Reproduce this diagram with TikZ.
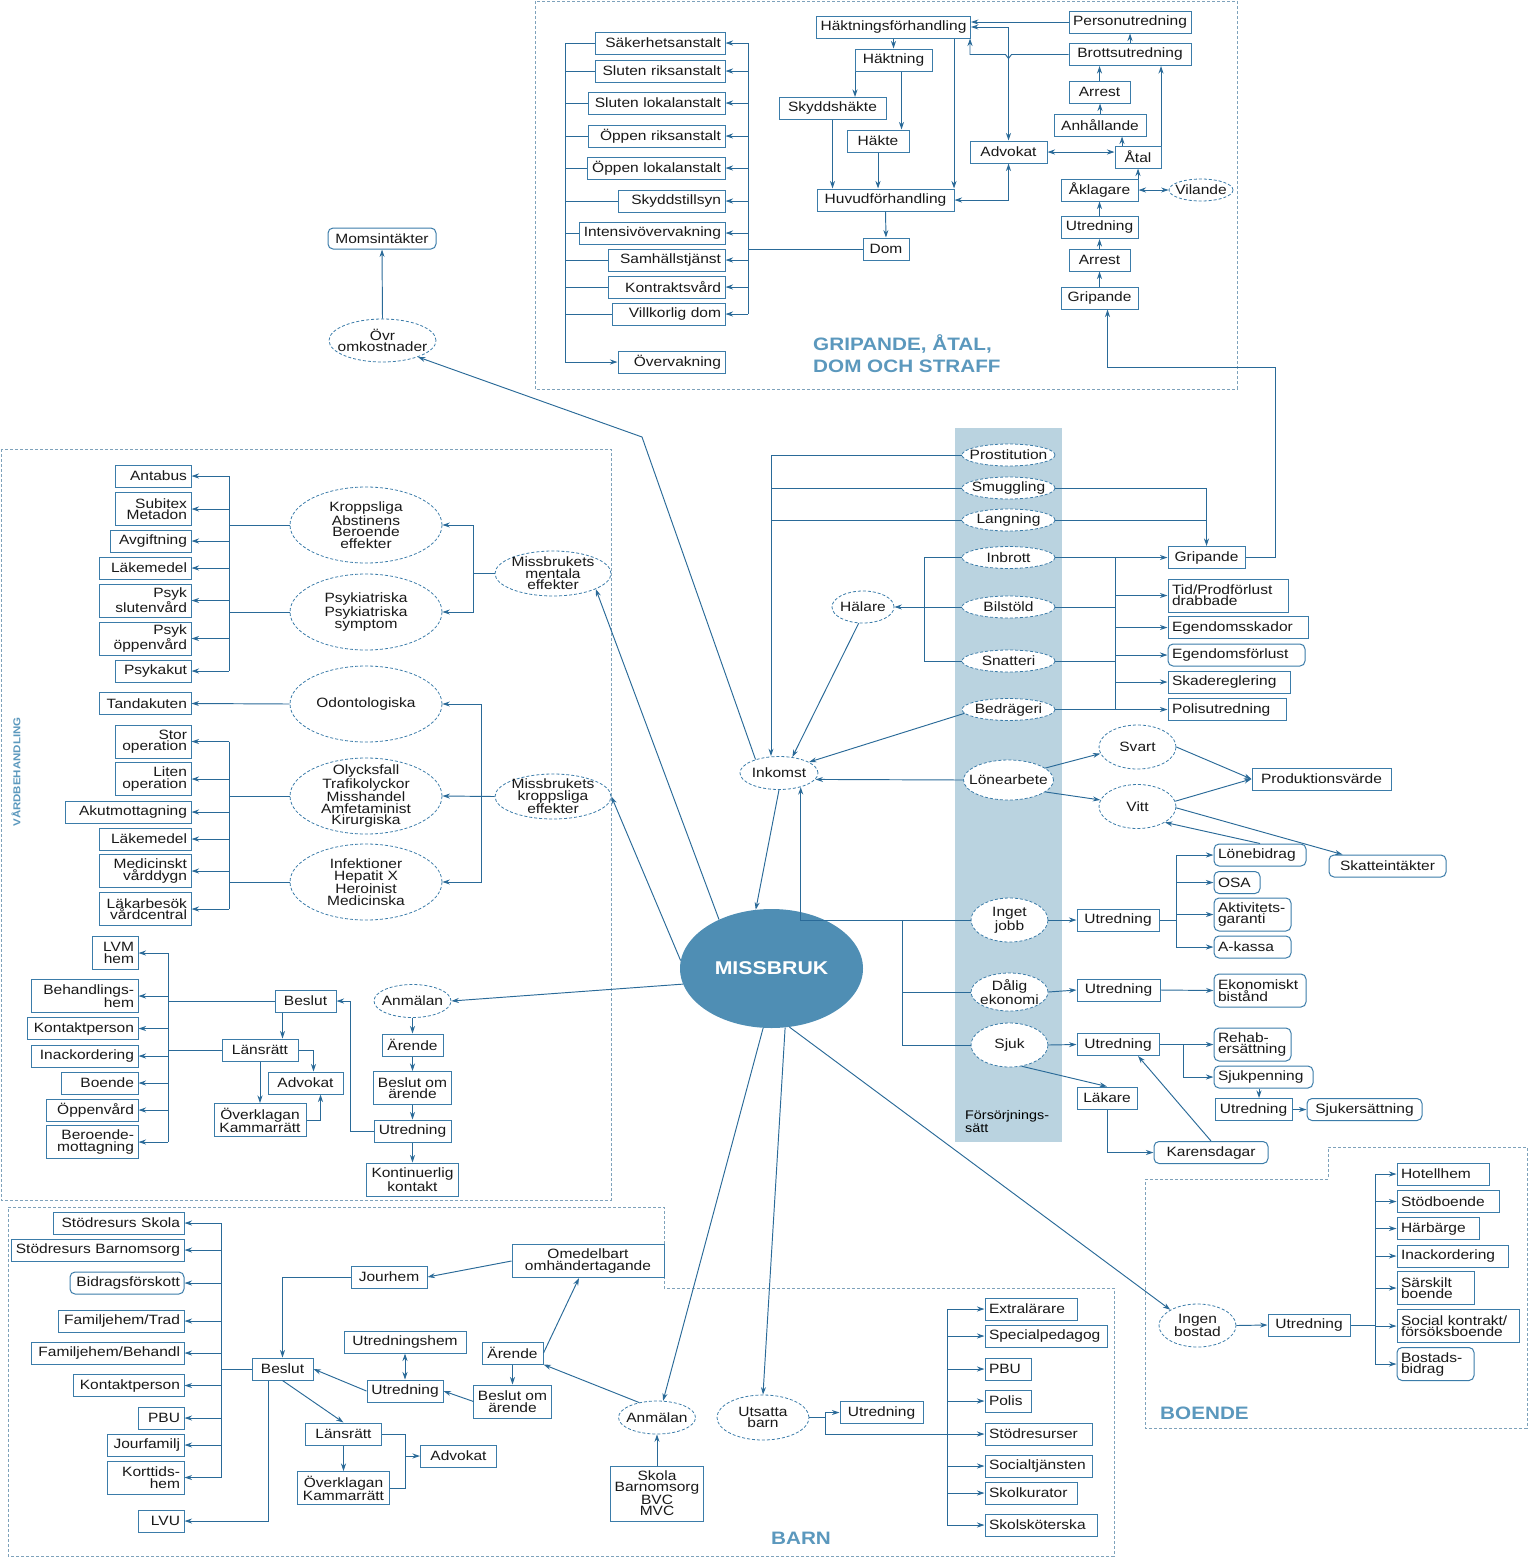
\documentclass[tikz,border=0pt]{standalone}
\usepackage{fontspec}
\setmainfont{Liberation Sans}[FakeStretch=1.15]
\usetikzlibrary{shapes.geometric, arrows.meta, positioning}

\definecolor{lineblue}{HTML}{2A6A98}
\definecolor{boxblue}{HTML}{3B7CA9}
\definecolor{headblue}{HTML}{5B98BD}
\definecolor{bandblue}{HTML}{BAD3E0}
\definecolor{coreblue}{HTML}{4F8EB4}
\definecolor{framegray}{HTML}{7EA2BB}

\begin{document}
\begin{tikzpicture}[
        x=1pt, y=-1pt,
        font=\fontsize{13.5}{11.5}\selectfont,
        % Styles
        box/.style={draw=boxblue, fill=white, line width=1pt, inner xsep=4pt, inner ysep=1pt, minimum height=22pt, text=black!90},
        rbox/.style={box, align=right, text width=#1},
        lbox/.style={box, align=left, text width=#1},
        rnd/.style={rounded corners=5pt},
        oval/.style n args={3}{ellipse, draw=boxblue, densely dashed, fill=white, line width=0.8pt, inner sep=0pt, minimum width=#1, minimum height=#2, label={[ovaltext]center:#3}},
        ovaltext/.style={align=center, inner sep=0pt, text=black!90},
        tight/.style={every label/.append style={font=\fontsize{13.5}{10.6}\selectfont}},
        link/.style={draw=lineblue, line width=0.95pt},
        arrow/.style={link, -{Stealth[length=7.5pt, width=5pt]}},
        twoway/.style={link, {Stealth[length=7.5pt, width=5pt]}-{Stealth[length=7.5pt, width=5pt]}},
        frame/.style={draw=framegray, densely dashed, line width=0.8pt},
        heading/.style={font=\fontsize{18}{22}\selectfont\bfseries, text=headblue, align=left, inner sep=0pt}
    ]
    \useasboundingbox (0,0) rectangle (1528,1559);

    % Frames and band
    \draw[frame] (535,1) rectangle (1237,389);
    \draw[frame] (1,449) rectangle (611,1200);
    \draw[frame] (8,1207) -- (664,1207) -- (664,1288) -- (1114,1288) -- (1114,1556) -- (8,1556) -- cycle;
    \draw[frame] (1145,1179) -- (1328,1179) -- (1328,1147) -- (1527,1147) -- (1527,1428) -- (1145,1428) -- cycle;
    \node[fill=bandblue, minimum width=107pt, minimum height=714pt, inner sep=0pt] (band) at (1008.5,785) {};
    \node[anchor=north west, align=left, inner sep=0pt, font=\fontsize{12.5}{13}\selectfont] (forsorj) at (965,1110) {Försörjnings-\\sätt};

    \node[heading, anchor=west] (straff) at (813,354) {GRIPANDE, ÅTAL,\\DOM OCH STRAFF};
    \node[heading, anchor=west] (boendetitle) at (1160,1413) {BOENDE};
    \node[heading] (barntitle) at (801,1538) {BARN};
    \node[heading, font=\fontsize{10}{11}\selectfont\bfseries, rotate=90] (vardtitle) at (16,772) {VÅRDBEHANDLING};

    % Core
    \node[ellipse, fill=coreblue, minimum width=183pt, minimum height=119pt, inner sep=0pt, text=white, font=\fontsize{18.5}{20}\selectfont\bfseries] (missbruk) at (771.5,968.5) {MISSBRUK};

    % Gripande, atal, dom och straff
    \node[rbox=122pt] (sakerhet) at (660,43) {Säkerhetsanstalt};
    \node[rbox=122pt] (slutriks) at (660,71) {Sluten riksanstalt};
    \node[rbox=129pt] (slutlokal) at (656.5,103) {Sluten lokalanstalt};
    \node[rbox=129pt] (oppriks) at (656.5,136) {Öppen riksanstalt};
    \node[rbox=130pt] (opplokal) at (656,168) {Öppen lokalanstalt};
    \node[rbox=99pt] (skyddstillsyn) at (671.5,201) {Skyddstillsyn};
    \node[rbox=138pt] (intensiv) at (652,233) {Intensivövervakning};
    \node[rbox=109pt] (samhall) at (666.5,260) {Samhällstjänst};
    \node[rbox=109pt] (kontraktsvard) at (666.5,287) {Kontraktsvård};
    \node[rbox=105pt] (villkorlig) at (668.5,314) {Villkorlig dom};
    \node[rbox=99pt] (overvakning) at (671.5,362) {Övervakning};

    \node[box, minimum width=153pt] (haktfh) at (893.5,27) {Häktningsförhandling};
    \node[box, minimum width=77pt] (haktning) at (893.5,60) {Häktning};
    \node[box, minimum width=107pt] (skyddshakte) at (832.5,108.5) {Skyddshäkte};
    \node[box, minimum width=62pt] (hakte) at (878,141) {Häkte};
    \node[box, minimum width=137pt] (huvudfh) at (885.5,200) {Huvudförhandling};
    \node[box, minimum width=46pt] (dom) at (886,249) {Dom};
    \node[box, minimum width=77pt] (advokat) at (1008.5,152) {Advokat};
    \node[box, minimum width=122pt] (personutr) at (1130,22) {Personutredning};
    \node[box, minimum width=122pt] (brottsutr) at (1130,54.5) {Brottsutredning};
    \node[box, minimum width=61pt] (arrest) at (1099.5,92) {Arrest};
    \node[box, minimum width=92pt] (anhallande) at (1100,125) {Anhållande};
    \node[box, minimum width=46pt] (atal) at (1138,157) {Åtal};
    \node[box, minimum width=77pt] (aklagare) at (1099.5,190) {Åklagare};
    \node[oval={64pt}{22pt}{Vilande}] (vilande) at (1201,190) {};
    \node[box, minimum width=77pt] (utredatal) at (1099.5,227.5) {Utredning};
    \node[box, minimum width=61pt] (arrest2) at (1099.5,260) {Arrest};
    \node[box, minimum width=77pt] (gripande) at (1099.5,298) {Gripande};

    \coordinate (sbus) at (565,0);
    \coordinate (dbus) at (748,0);
    \draw[link] (sbus |- sakerhet.west) -- (sbus |- overvakning.west);
    \draw[arrow] (sbus |- overvakning.west) -- (overvakning.west);
    \foreach \n in {sakerhet, slutriks, slutlokal, oppriks, opplokal, skyddstillsyn, intensiv, samhall, kontraktsvard, villkorlig}
        \draw[link] (\n.west) -- (sbus |- \n.west);
    \draw[link] (dbus |- sakerhet.east) -- (dbus |- villkorlig.east);
    \foreach \n in {sakerhet, slutriks, slutlokal, oppriks, opplokal, skyddstillsyn, intensiv, samhall, kontraktsvard, villkorlig}
        \draw[arrow] (dbus |- \n.east) -- (\n.east);
    \draw[link] (dom.west) -- (dbus |- dom.west);

    \coordinate (hx1) at (855,0);
    \coordinate (hx2) at (901.5,0);
    \coordinate (hx3) at (954,0);
    \coordinate (hopx) at (970,0);
    \coordinate (ax) at (1122,0);
    \coordinate (bx) at (1161,0);
    \coordinate (gx) at (1107.5,0);
    \draw[arrow] (personutr.west) -- (personutr.west -| haktfh.east);
    \draw[arrow] (brottsutr.north) -- (personutr.south);
    \draw[arrow] (brottsutr.west) -- ++(-57,0) -- ++(-3,4) -- ++(-3,-4) -- (hopx |- brottsutr.west) -- (hopx |- haktfh.south);
    \draw[twoway] (haktfh.east) -| (advokat.north);
    \draw[twoway] (huvudfh.east) -| (advokat.south);
    \draw[twoway] (advokat.east) -- (advokat.east -| atal.west);
    \draw[arrow] (haktfh.south) -- (haktning.north);
    \draw[arrow] (hx1 |- haktning.south) -- (hx1 |- skyddshakte.north);
    \draw[arrow] (hx2 |- haktning.south) -- (hx2 |- hakte.north);
    \draw[arrow] (skyddshakte.south) -- (skyddshakte.south |- huvudfh.north);
    \draw[arrow] (hakte.south) -- (hakte.south |- huvudfh.north);
    \draw[arrow] (hx3 |- haktfh.south) -- (hx3 |- huvudfh.north);
    \draw[arrow] (huvudfh.south) -- (dom.north);
    \draw[arrow] (ax |- atal.north) -- (ax |- anhallande.south);
    \draw[arrow] (anhallande.north) -- (anhallande.north |- arrest.south);
    \draw[arrow] (arrest.north) -- (arrest.north |- brottsutr.south);
    \draw[arrow] (bx |- atal.north) -- (bx |- brottsutr.south);
    \draw[arrow] (aklagare.north -| atal.south) -- (atal.south);
    \draw[twoway] (aklagare.east) -- (vilande.west);
    \draw[arrow] (utredatal.north) -- (aklagare.south);
    \draw[arrow] (arrest2.north) -- (utredatal.south);
    \draw[arrow] (gripande.north) -- (arrest2.south);

    % Vardbehandling
    \node[rbox=68pt] (antabus) at (153,476) {Antabus};
    \node[rbox=68pt, minimum height=33pt] (subitex) at (153,509) {Subitex\\Metadon};
    \node[rbox=73pt] (avgiftning) at (150.5,541) {Avgiftning};
    \node[rbox=84pt] (lakemedel) at (145,568) {Läkemedel};
    \node[rbox=84pt, minimum height=33pt] (psykslut) at (145,600.5) {Psyk\\slutenvård};
    \node[rbox=84pt, minimum height=33pt] (psykoppen) at (145,638.5) {Psyk\\öppenvård};
    \node[rbox=68pt] (psykakut) at (153,671) {Psykakut};
    \node[rbox=84pt] (tandakuten) at (145,703.5) {Tandakuten};
    \node[rbox=68pt, minimum height=33pt] (storop) at (153,741.5) {Stor\\operation};
    \node[rbox=68pt, minimum height=33pt] (litenop) at (153,779) {Liten\\operation};
    \node[rbox=118pt] (akutmott) at (128,812) {Akutmottagning};
    \node[rbox=84pt] (lakemedel2) at (145,839) {Läkemedel};
    \node[rbox=84pt, minimum height=33pt] (vardygn) at (145,871) {Medicinskt\\vårddygn};
    \node[rbox=84pt, minimum height=33pt] (lakarbesok) at (145,909) {Läkarbesök\\vårdcentral};

    \node[oval={152pt}{76pt}{Kroppsliga\\Abstinens\\Beroende\\effekter}] (kroppsliga) at (366,525) {};
    \node[oval={152pt}{76pt}{Psykiatriska\\Psykiatriska\\symptom}] (psykiatriska) at (366,612) {};
    \node[oval={152pt}{76pt}{Odontologiska}] (odontologiska) at (366,704) {};
    \node[oval={152pt}{76pt}{Olycksfall\\Trafikolyckor\\Misshandel\\Amfetaminist\\Kirurgiska}] (olycksfall) at (366,796) {};
    \node[oval={152pt}{76pt}{Infektioner\\Hepatit X\\Heroinist\\Medicinska}] (infektioner) at (366,882) {};
    \node[tight, oval={116pt}{45pt}{Missbrukets\\mentala\\effekter}] (mentala) at (553,573.5) {};
    \node[tight, oval={116pt}{45pt}{Missbrukets\\kroppsliga\\effekter}] (kroppseff) at (553,796.5) {};

    \coordinate (vbus) at (229,0);
    \draw[link] (vbus |- antabus.east) -- (vbus |- psykakut.east);
    \foreach \n in {antabus, subitex, avgiftning, lakemedel, psykslut, psykoppen, psykakut}
        \draw[arrow] (vbus |- \n.east) -- (\n.east);
    \draw[link] (kroppsliga.west) -- (vbus |- kroppsliga.west);
    \draw[link] (psykiatriska.west) -- (vbus |- psykiatriska.west);
    \draw[arrow] (odontologiska.west) -- (tandakuten.east);
    \draw[link] (vbus |- storop.east) -- (vbus |- lakarbesok.east);
    \foreach \n in {storop, litenop, akutmott, lakemedel2, vardygn, lakarbesok}
        \draw[arrow] (vbus |- \n.east) -- (\n.east);
    \draw[link] (olycksfall.west) -- (vbus |- olycksfall.west);
    \draw[link] (infektioner.west) -- (vbus |- infektioner.west);
    \coordinate (mbus) at (473,0);
    \draw[link] (mentala.west) -- (mbus |- mentala.west);
    \draw[arrow] (mbus |- mentala.west) |- (kroppsliga.east);
    \draw[arrow] (mbus |- mentala.west) |- (psykiatriska.east);
    \coordinate (kbus) at (481,0);
    \draw[arrow] (kroppseff.west) -- (olycksfall.east);
    \draw[arrow] (kbus |- kroppseff.west) |- (odontologiska.east);
    \draw[arrow] (kbus |- kroppseff.west) |- (infektioner.east);

    \node[rbox=38pt, minimum height=33pt] (lvmhem) at (115,953) {LVM\\hem};
    \node[rbox=99pt, minimum height=33pt] (behandlingshem) at (84.5,996) {Behandlings-\\hem};
    \node[rbox=103pt] (kontaktperson) at (82.5,1028.5) {Kontaktperson};
    \node[rbox=99pt] (inackordering) at (84.5,1056) {Inackordering};
    \node[rbox=69pt] (boende) at (99.5,1083) {Boende};
    \node[rbox=84pt] (oppenvard) at (92,1110) {Öppenvård};
    \node[rbox=84pt, minimum height=33pt] (beroende) at (92,1142) {Beroende-\\mottagning};
    \node[box, minimum width=61pt] (beslut) at (305.5,1001) {Beslut};
    \node[box, minimum width=76pt] (lansratt) at (260,1050) {Länsrätt};
    \node[box, minimum width=75pt] (advokat2) at (305.5,1083) {Advokat};
    \node[box, minimum width=92pt, minimum height=33pt, align=center] (overklagan) at (260,1120) {Överklagan\\Kammarrätt};
    \node[oval={77pt}{33pt}{Anmälan}] (anmalan) at (412.5,1001) {};
    \node[box, minimum width=61pt] (arende) at (412.5,1045) {Ärende};
    \node[box, minimum width=77pt, minimum height=33pt, align=center] (beslutom) at (412.5,1088) {Beslut om\\ärende};
    \node[box, minimum width=77pt] (utredning) at (412.5,1131) {Utredning};
    \node[box, minimum width=92pt, minimum height=33pt, align=center] (kontinuerlig) at (412.5,1179.5) {Kontinuerlig\\kontakt};

    \coordinate (lbus) at (168,0);
    \coordinate (bx1) at (282.5,0);
    \draw[link] (lbus |- lvmhem.east) -- (lbus |- beroende.east);
    \foreach \n in {lvmhem, behandlingshem, kontaktperson, inackordering, boende, oppenvard, beroende}
        \draw[arrow] (lbus |- \n.east) -- (\n.east);
    \draw[link] (beslut.west) -- (lbus |- beslut.west);
    \draw[link] (lansratt.west) -- (lbus |- lansratt.west);
    \draw[arrow] (bx1 |- beslut.south) -- (bx1 |- lansratt.north);
    \draw[arrow] (lansratt.east) -| ([xshift=8pt]advokat2.north);
    \draw[arrow] (lansratt.south) -- (overklagan.north);
    \draw[arrow] (overklagan.east) -| ([xshift=15pt]advokat2.south);
    \draw[arrow] (anmalan.south) -- (arende.north);
    \draw[arrow] (arende.south) -- (beslutom.north);
    \draw[arrow] (beslutom.south) -- (utredning.north);
    \draw[arrow] (utredning.south) -- (kontinuerlig.north);
    \draw[arrow] (utredning.west) -- ++(-23,0) |- (beslut.east);

    % Forsorjningssatt
    \node[oval={93pt}{22pt}{Prostitution}] (prostitution) at (1008.5,455) {};
    \node[oval={93pt}{22pt}{Smuggling}] (smuggling) at (1008.5,488) {};
    \node[oval={93pt}{22pt}{Langning}] (langning) at (1008.5,520) {};
    \node[oval={93pt}{22pt}{Inbrott}] (inbrott) at (1008.5,557.5) {};
    \node[oval={93pt}{22pt}{Bilstöld}] (bilstold) at (1008.5,607) {};
    \node[oval={93pt}{22pt}{Snatteri}] (snatteri) at (1008.5,661) {};
    \node[oval={93pt}{22pt}{Bedrägeri}] (bedrageri) at (1008.5,709.5) {};
    \node[oval={90pt}{40pt}{Lönearbete}] (lonearbete) at (1008.5,780) {};
    \node[oval={77pt}{44pt}{Inget\\jobb}] (ingetjobb) at (1009.5,920) {};
    \node[oval={77pt}{38pt}{Dålig\\ekonomi}] (daligekonomi) at (1009.5,992) {};
    \node[oval={77pt}{44pt}{Sjuk}] (sjuk) at (1009.5,1045) {};

    \node[oval={62pt}{32pt}{Hälare}] (halare) at (863,607) {};
    \node[oval={78pt}{33pt}{Inkomst}] (inkomst) at (779,773) {};
    \node[oval={77pt}{44pt}{Svart}] (svart) at (1137.5,747) {};
    \node[oval={77pt}{44pt}{Vitt}] (vitt) at (1137.5,806.5) {};

    \node[box, minimum width=77pt] (gripande2) at (1206.5,557.5) {Gripande};
    \node[lbox=112pt, minimum height=33pt, font=\fontsize{13.5}{11}\selectfont] (tidprod) at (1228,595.5) {Tid/Prodförlust\\drabbade};
    \node[lbox=132pt] (egskador) at (1238,627.5) {Egendomsskador};
    \node[lbox=129pt, rnd] (egforlust) at (1236.5,655) {Egendomsförlust};
    \node[lbox=114pt] (skadereglering) at (1229,682) {Skadereglering};
    \node[lbox=110pt] (polisutredning) at (1227,709.5) {Polisutredning};
    \node[box, minimum width=139pt] (produktion) at (1321.5,779) {Produktionsvärde};
    \node[box, rnd, minimum width=117pt] (skatt) at (1387.5,866) {Skatteintäkter};
    \node[box, minimum width=82pt] (utredjobb) at (1118,920) {Utredning};
    \node[lbox=84pt, rnd] (lonebidrag) at (1260,855) {Lönebidrag};
    \node[lbox=38pt, rnd] (osa) at (1237,882.5) {OSA};
    \node[lbox=69pt, rnd, minimum height=33pt] (aktivitet) at (1252.5,914.5) {Aktivitets-\\garanti};
    \node[lbox=69pt, rnd] (akassa) at (1252.5,947) {A-kassa};
    \node[box, minimum width=83pt] (utredekon) at (1118.5,990) {Utredning};
    \node[lbox=84pt, rnd, minimum height=33pt] (ekonomiskt) at (1260,990.5) {Ekonomiskt\\bistånd};
    \node[box, minimum width=82pt] (utredsjuk) at (1118,1044.5) {Utredning};
    \node[lbox=69pt, rnd, minimum height=33pt] (rehab) at (1252.5,1044.5) {Rehab-\\ersättning};
    \node[lbox=91pt, rnd] (sjukpenning) at (1263.5,1077) {Sjukpenning};
    \node[box, minimum width=77pt] (utredsjuk2) at (1253.5,1109.5) {Utredning};
    \node[box, rnd, minimum width=115pt] (sjukersattning) at (1364.5,1109.5) {Sjukersättning};
    \node[box, minimum width=60pt] (lakare) at (1107,1098) {Läkare};
    \node[box, rnd, minimum width=114pt] (karensdagar) at (1211,1152.5) {Karensdagar};

    \coordinate (ibus) at (771,0);
    \coordinate (cbus) at (1115,0);
    \coordinate (hbus) at (924,0);
    \coordinate (jbus) at (1176,0);
    \coordinate (fbus) at (902,0);
    \coordinate (spx) at (1259,0);
    \draw[arrow] (prostitution.west) -| ([xshift=-8pt]inkomst.north);
    \draw[link] (smuggling.west) -- (ibus |- smuggling.west);
    \draw[link] (langning.west) -- (ibus |- langning.west);
    \draw[arrow] (smuggling.east) -| (gripande2.north);
    \draw[link] (langning.east) -- (gripande2.north |- langning.east);
    \draw[arrow] (inbrott.east) -- (gripande2.west);
    \draw[link] (cbus |- inbrott.east) -- (cbus |- bedrageri.east);
    \draw[link] (bilstold.east) -- (cbus |- bilstold.east);
    \draw[link] (snatteri.east) -- (cbus |- snatteri.east);
    \draw[arrow] (bedrageri.east) -- (polisutredning.west);
    \foreach \n in {tidprod, egskador, egforlust, skadereglering}
        \draw[arrow] (cbus |- \n.west) -- (\n.west);
    \draw[link] (inbrott.west) -- (hbus |- inbrott.west) -- (hbus |- snatteri.west) -- (snatteri.west);
    \draw[arrow] (bilstold.west) -- (halare.east);
    \draw[arrow] (halare.255) -- (inkomst.50);
    \draw[arrow] (bedrageri.185) -- (inkomst.20);
    \draw[arrow] (lonearbete.west) -- (inkomst.-10);
    \draw[arrow] (lonearbete.18) -- (svart.190);
    \draw[arrow] (lonearbete.-18) -- (vitt.170);
    \draw[arrow] (svart.east) -- (produktion.west);
    \draw[arrow] (vitt.8) -- (produktion.west);
    \draw[arrow] (vitt.-2) -- ([xshift=14pt]skatt.north west);
    \draw[arrow] (lonebidrag.north) -- (vitt.-30);
    \draw[arrow] (ingetjobb.east) -- (utredjobb.west);
    \draw[link] (utredjobb.east) -- (jbus |- utredjobb.east);
    \draw[link] (jbus |- lonebidrag.west) -- (jbus |- akassa.west);
    \foreach \n in {lonebidrag, osa, aktivitet, akassa}
        \draw[arrow] (jbus |- \n.west) -- (\n.west);
    \draw[arrow] (daligekonomi.east) -- (utredekon.west);
    \draw[arrow] (utredekon.east) -- (ekonomiskt.west);
    \draw[arrow] (sjuk.east) -- (utredsjuk.west);
    \draw[arrow] (utredsjuk.east) -- (rehab.west);
    \draw[arrow] (utredsjuk.east) -- ++(24,0) |- (sjukpenning.west);
    \draw[arrow] (spx |- sjukpenning.south) -- (spx |- utredsjuk2.north);
    \draw[arrow] (utredsjuk2.east) -- (sjukersattning.west);
    \draw[arrow] (sjuk.-60) -- (lakare.north);
    \draw[arrow] (lakare.south) |- (karensdagar.west);
    \draw[arrow] (karensdagar.north) -- ([xshift=20pt]utredsjuk.south);
    \draw[arrow] (ingetjobb.west) -| (inkomst.-33);
    \draw[link] (fbus |- ingetjobb.west) |- (sjuk.west);
    \draw[link] (daligekonomi.west) -- (fbus |- daligekonomi.west);
    \draw[arrow] (gripande2.east) -| ++(30,-190) -| (gx |- gripande.south);

    % Boende
    \node[oval={77pt}{43pt}{Ingen\\bostad}] (ingenbostad) at (1197.5,1325.5) {};
    \node[box, minimum width=82pt] (utredboende) at (1309,1325) {Utredning};
    \node[lbox=84pt] (hotellhem) at (1443,1174) {Hotellhem};
    \node[lbox=94pt] (stodboende) at (1448,1201.5) {Stödboende};
    \node[lbox=74pt] (harbarge) at (1438,1228.5) {Härbärge};
    \node[lbox=103pt] (inackordering2) at (1452.5,1256) {Inackordering};
    \node[lbox=69pt, minimum height=33pt, font=\fontsize{13.5}{11}\selectfont] (sarskilt) at (1435.5,1288) {Särskilt\\boende};
    \node[lbox=114pt, minimum height=33pt, font=\fontsize{13.5}{11}\selectfont] (socialkontrakt) at (1458,1326) {Social kontrakt/\\försöksboende};
    \node[lbox=69pt, rnd, minimum height=33pt, font=\fontsize{13.5}{11}\selectfont] (bostadsbidrag) at (1435.5,1364) {Bostads-\\bidrag};

    \coordinate (obus) at (1375,0);
    \draw[arrow] (ingenbostad.east) -- (utredboende.west);
    \draw[link] (utredboende.east) -- (obus |- utredboende.east);
    \draw[link] (obus |- hotellhem.west) -- (obus |- bostadsbidrag.west);
    \foreach \n in {hotellhem, stodboende, harbarge, inackordering2, sarskilt, socialkontrakt, bostadsbidrag}
        \draw[arrow] (obus |- \n.west) -- (\n.west);

    % Barn
    \node[rbox=123pt] (stodskola) at (118.5,1223) {Stödresurs Skola};
    \node[rbox=165pt] (stodbarnomsorg) at (97.5,1250) {Stödresurs Barnomsorg};
    \node[rbox=106pt, rnd] (bidragsforskott) at (127,1283) {Bidragsförskott};
    \node[rbox=118pt] (famtrad) at (121,1321) {Familjehem/Trad};
    \node[rbox=145pt] (fambehandl) at (107.5,1353) {Familjehem/Behandl};
    \node[rbox=103pt] (kontaktperson2) at (128.5,1385.5) {Kontaktperson};
    \node[rbox=38pt] (pbu) at (161,1418) {PBU};
    \node[rbox=69pt] (jourfamilj) at (145.5,1445) {Jourfamilj};
    \node[rbox=69pt, minimum height=33pt] (korttidshem) at (145.5,1477.5) {Korttids-\\hem};
    \node[rbox=38pt] (lvu) at (161,1521) {LVU};
    \node[box, minimum width=61pt] (beslut2) at (282.5,1369) {Beslut};
    \node[box, minimum width=76pt] (jourhem) at (389,1277) {Jourhem};
    \node[box, minimum width=152pt, minimum height=33pt, align=center] (omedelbart) at (588,1261) {Omedelbart\\omhändertagande};
    \node[box, minimum width=122pt] (utredningshem) at (405,1342) {Utredningshem};
    \node[box, minimum width=76pt] (utredning2) at (405,1391) {Utredning};
    \node[box, minimum width=61pt] (arende2) at (512.5,1353) {Ärende};
    \node[box, minimum width=76pt, minimum height=33pt, align=center] (beslutom2) at (512.5,1401.5) {Beslut om\\ärende};
    \node[oval={77pt}{33pt}{Anmälan}] (anmalan2) at (657,1417.5) {};
    \node[box, minimum width=92pt, minimum height=55pt, align=center, font=\fontsize{13.5}{10.9}\selectfont] (skola) at (657,1493.5) {Skola\\Barnomsorg\\BVC\\MVC};
    \node[box, minimum width=76pt] (lansratt2) at (343.5,1434) {Länsrätt};
    \node[box, minimum width=92pt, minimum height=33pt, align=center] (overklagan2) at (343.5,1488) {Överklagan\\Kammarrätt};
    \node[box, minimum width=76pt] (advokat3) at (458.5,1456) {Advokat};
    \node[oval={92pt}{45pt}{Utsatta\\barn}] (utsatta) at (763,1417.5) {};
    \node[box, minimum width=83pt] (utredbarn) at (881.5,1412.5) {Utredning};
    \node[lbox=84pt] (extralarare) at (1031,1309) {Extralärare};
    \node[lbox=114pt] (specialped) at (1046,1336) {Specialpedagog};
    \node[lbox=38pt] (pbu2) at (1008,1369) {PBU};
    \node[lbox=38pt] (polis) at (1008,1401) {Polis};
    \node[lbox=99pt] (stodresurser) at (1038.5,1434) {Stödresurser};
    \node[lbox=99pt] (socialtjansten) at (1038.5,1466) {Socialtjänsten};
    \node[lbox=84pt] (skolkurator) at (1031,1493) {Skolkurator};
    \node[lbox=104pt] (skolskoterska) at (1041,1525) {Skolsköterska};

    \coordinate (kbusb) at (221,0);
    \coordinate (lvux) at (268,0);
    \coordinate (abus) at (405,0);
    \coordinate (ubus) at (825,0);
    \coordinate (sbusb) at (947,0);
    \draw[link] (kbusb |- stodskola.east) -- (kbusb |- korttidshem.east);
    \foreach \n in {stodskola, stodbarnomsorg, bidragsforskott, famtrad, fambehandl, kontaktperson2, pbu, jourfamilj, korttidshem}
        \draw[arrow] (kbusb |- \n.east) -- (\n.east);
    \draw[link] (beslut2.west) -- (kbusb |- beslut2.west);
    \draw[arrow] (lvux |- beslut2.south) |- (lvu.east);
    \draw[arrow] (jourhem.west) -| (beslut2.north);
    \draw[arrow] (omedelbart.west) -- (jourhem.east);
    \draw[twoway] (utredningshem.south) -- (utredning2.north);
    \draw[arrow] (utredning2.west) -- (beslut2.east);
    \draw[arrow] (beslut2.south) -- (lansratt2.north);
    \draw[arrow] (lansratt2.south) -- (overklagan2.north);
    \draw[link] (lansratt2.east) -| (abus |- overklagan2.east) -- (overklagan2.east);
    \draw[arrow] (abus |- advokat3.west) -- (advokat3.west);
    \draw[arrow] (arende2.south) -- (beslutom2.north);
    \draw[arrow] (beslutom2.west) -- (utredning2.east);
    \draw[arrow] (arende2.east) -- ([xshift=-9pt]omedelbart.south);
    \draw[arrow] (anmalan2.140) -- (arende2.south east);
    \draw[arrow] (skola.north) -- (anmalan2.south);
    \draw[arrow] (utsatta.east) -| (ubus |- utredbarn.west) -- (utredbarn.west);
    \draw[arrow] (utsatta.east) -| (ubus |- stodresurser.west) -- (stodresurser.west);
    \draw[link] (sbusb |- extralarare.west) -- (sbusb |- skolskoterska.west);
    \foreach \n in {extralarare, specialped, pbu2, polis, socialtjansten, skolkurator, skolskoterska}
        \draw[arrow] (sbusb |- \n.west) -- (\n.west);

    % Ovriga kostnader
    \node[box, rnd, minimum width=108pt, minimum height=21pt] (moms) at (382,238.5) {Momsintäkter};
    \node[tight, oval={107pt}{43pt}{Övr\\omkostnader}] (ovr) at (382.5,340.5) {};
    \draw[arrow] (ovr.north) -- (moms.south);

    % Spokes from the core
    \draw[arrow] (inkomst.south) -- (missbruk.105);
    \draw[arrow] (inkomst.150) -- (642,437) -- (ovr.-25);
    \draw[arrow] (missbruk.137) -- (mentala.-20);
    \draw[arrow] (missbruk.175) -- (kroppseff.east);
    \draw[arrow] (missbruk.190) -- (anmalan.east);
    \draw[arrow] (missbruk.-98) -- (anmalan2.70);
    \draw[arrow] (missbruk.-77) -- (utsatta.north);
    \draw[arrow] (missbruk.-73) -- (ingenbostad.150);

\end{tikzpicture}
\end{document}
